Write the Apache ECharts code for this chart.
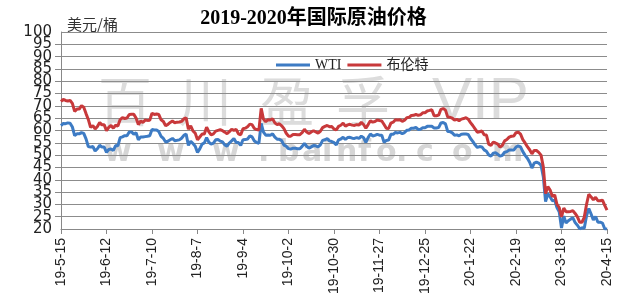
<!DOCTYPE html>
<html><head><meta charset="utf-8">
<script src="https://cdn.jsdelivr.net/npm/echarts@6/dist/echarts.min.js"></script>
<style>html,body{margin:0;padding:0;background:#fff}#c{width:627px;height:308px}</style>
</head><body><div id="c"></div>
<script>
var titleText = '2019-2020年国际原油价格';
var unitText = '美元/桶';
var seriesNames = ['WTI', '布伦特'];
var yTicks = {min: 20, max: 100, step: 5};

var dates = [
'19-5-15','19-5-16','19-5-17','19-5-20','19-5-21','19-5-22','19-5-23','19-5-24','19-5-27','19-5-28','19-5-29','19-5-30','19-5-31',
'19-6-3','19-6-4','19-6-5','19-6-6','19-6-7','19-6-10','19-6-11','19-6-12','19-6-13','19-6-14','19-6-17','19-6-18','19-6-19','19-6-20','19-6-21','19-6-24','19-6-25','19-6-26','19-6-27','19-6-28',
'19-7-1','19-7-2','19-7-3','19-7-4','19-7-5','19-7-8','19-7-9','19-7-10','19-7-11','19-7-12','19-7-15','19-7-16','19-7-17','19-7-18','19-7-19','19-7-22','19-7-23','19-7-24','19-7-25','19-7-26','19-7-29','19-7-30','19-7-31',
'19-8-1','19-8-2','19-8-5','19-8-6','19-8-7','19-8-8','19-8-9','19-8-12','19-8-13','19-8-14','19-8-15','19-8-16','19-8-19','19-8-20','19-8-21','19-8-22','19-8-23','19-8-26','19-8-27','19-8-28','19-8-29','19-8-30',
'19-9-2','19-9-3','19-9-4','19-9-5','19-9-6','19-9-9','19-9-10','19-9-11','19-9-12','19-9-13','19-9-16','19-9-17','19-9-18','19-9-19','19-9-20','19-9-23','19-9-24','19-9-25','19-9-26','19-9-27','19-9-30',
'19-10-1','19-10-2','19-10-3','19-10-4','19-10-7','19-10-8','19-10-9','19-10-10','19-10-11','19-10-14','19-10-15','19-10-16','19-10-17','19-10-18','19-10-21','19-10-22','19-10-23','19-10-24','19-10-25','19-10-28','19-10-29','19-10-30','19-10-31',
'19-11-1','19-11-4','19-11-5','19-11-6','19-11-7','19-11-8','19-11-11','19-11-12','19-11-13','19-11-14','19-11-15','19-11-18','19-11-19','19-11-20','19-11-21','19-11-22','19-11-25','19-11-26','19-11-27','19-11-28','19-11-29',
'19-12-2','19-12-3','19-12-4','19-12-5','19-12-6','19-12-9','19-12-10','19-12-11','19-12-12','19-12-13','19-12-16','19-12-17','19-12-18','19-12-19','19-12-20','19-12-23','19-12-24','19-12-25','19-12-26','19-12-27','19-12-30','19-12-31',
'20-1-1','20-1-2','20-1-3','20-1-6','20-1-7','20-1-8','20-1-9','20-1-10','20-1-13','20-1-14','20-1-15','20-1-16','20-1-17','20-1-20','20-1-21','20-1-22','20-1-23','20-1-24','20-1-27','20-1-28','20-1-29','20-1-30','20-1-31',
'20-2-3','20-2-4','20-2-5','20-2-6','20-2-7','20-2-10','20-2-11','20-2-12','20-2-13','20-2-14','20-2-17','20-2-18','20-2-19','20-2-20','20-2-21','20-2-24','20-2-25','20-2-26','20-2-27','20-2-28',
'20-3-2','20-3-3','20-3-4','20-3-5','20-3-6','20-3-9','20-3-10','20-3-11','20-3-12','20-3-13','20-3-16','20-3-17','20-3-18','20-3-19','20-3-20','20-3-23','20-3-24','20-3-25','20-3-26','20-3-27','20-3-30','20-3-31',
'20-4-1','20-4-2','20-4-3','20-4-6','20-4-7','20-4-8','20-4-9','20-4-10','20-4-13','20-4-14','20-4-15'
];

var wti = [
62.02,62.87,62.76,63.10,62.99,61.42,57.91,58.63,58.63,59.14,58.81,56.59,53.50,
53.25,53.48,51.68,52.59,53.99,53.26,53.27,51.14,52.28,52.51,51.93,53.90,53.76,57.07,57.43,57.90,57.83,59.38,59.43,58.47,
59.09,56.25,57.34,57.34,57.51,57.66,57.83,60.43,60.20,60.21,59.58,57.62,56.78,55.30,55.63,56.22,56.77,55.88,56.02,56.20,56.87,58.05,58.58,
53.95,55.66,54.69,53.63,51.09,52.54,54.50,54.93,57.10,55.23,54.47,54.87,56.21,56.34,55.68,55.35,54.17,53.64,54.93,55.78,56.71,55.10,
55.10,53.94,56.26,56.30,56.52,57.85,57.40,55.75,55.09,54.85,62.90,59.34,58.11,58.13,58.09,58.64,57.29,56.49,56.41,55.91,54.07,
53.62,52.64,52.45,52.81,52.75,52.63,52.59,53.55,54.70,53.59,52.81,53.36,53.93,53.78,53.31,54.16,55.97,56.23,56.66,55.81,55.54,55.06,54.18,
56.20,56.54,57.23,56.35,57.15,57.24,56.86,56.80,57.12,56.77,57.72,57.05,55.21,57.11,58.58,57.77,58.01,58.41,58.11,58.11,55.17,
55.96,56.10,58.43,58.43,59.20,59.02,59.24,58.76,59.18,60.07,60.21,60.94,60.93,61.22,60.44,60.52,61.11,61.11,61.68,61.72,61.68,61.06,
61.06,61.18,63.05,63.27,62.70,59.61,59.56,59.04,58.08,58.23,57.81,58.52,58.54,58.54,58.38,56.74,55.59,54.19,53.14,53.48,53.33,52.14,51.56,
50.11,49.61,50.75,50.95,50.32,49.57,49.94,51.17,51.42,52.05,52.05,52.05,53.29,53.78,53.38,51.43,49.90,48.73,47.09,44.76,
46.75,47.18,46.78,45.90,41.28,31.13,34.36,32.98,31.50,31.73,28.70,26.95,20.37,25.22,22.43,23.36,24.01,24.49,22.60,21.51,20.09,20.48,
20.31,25.32,28.34,26.08,23.63,25.09,22.76,22.76,22.41,20.11,19.87
];

var brent = [
71.77,72.62,72.21,71.97,72.18,70.99,67.76,68.69,68.69,70.11,69.45,66.87,64.49,
61.28,61.97,60.63,61.67,63.29,62.29,62.29,59.97,61.31,62.01,60.94,62.14,61.82,64.45,65.20,64.86,65.05,66.49,66.55,66.55,
65.06,62.40,63.82,63.30,64.23,64.11,64.16,67.01,66.52,66.72,66.48,64.35,63.66,61.93,62.47,63.26,63.83,63.18,63.39,63.46,63.71,64.72,65.17,
60.50,61.89,59.81,58.94,56.23,57.38,58.53,58.57,61.30,59.48,58.23,58.64,59.74,60.03,60.30,59.92,59.34,58.70,59.51,60.49,60.08,60.43,
58.66,58.26,60.70,60.95,61.54,62.59,62.38,60.81,60.38,60.22,69.02,64.55,63.60,64.40,64.28,64.77,63.10,62.39,62.74,61.91,60.78,
58.89,57.69,57.71,58.37,58.35,58.24,58.32,59.10,60.51,59.35,58.74,59.42,59.91,59.42,58.96,59.70,61.17,61.67,62.02,61.57,61.59,60.61,60.23,
61.69,62.13,62.96,61.74,62.29,62.51,62.18,62.06,62.37,62.28,63.30,62.44,60.91,62.40,63.97,63.39,63.65,64.27,64.06,63.87,62.43,
60.92,60.82,63.00,63.39,64.39,64.25,64.34,63.72,64.20,65.22,65.34,66.10,66.17,66.54,66.14,66.39,67.20,67.20,67.92,68.16,68.44,66.00,
66.00,66.25,68.60,68.91,68.27,65.44,65.37,64.98,64.20,64.49,64.00,64.62,64.85,65.20,64.59,63.21,62.04,60.69,59.32,59.51,59.81,58.29,58.16,
54.45,53.96,55.28,54.93,54.47,53.27,54.01,55.79,56.34,57.32,57.67,57.75,59.12,59.31,58.50,56.30,54.95,53.43,52.18,50.52,
51.90,51.86,51.13,49.99,45.27,34.36,37.22,35.79,33.22,33.85,30.05,28.73,24.88,28.47,26.98,27.03,27.15,27.39,26.34,24.93,22.76,22.74,
24.74,29.94,34.11,33.05,31.87,32.84,31.48,31.48,31.74,29.60,27.69
];

var wmChars = ['百','川','盈','孚'];
var wmLatin = 'VIP';
var wmUrl = ['w','w','w','.','b','a','i','n','f','o','.','c','o','m'];

var chart = echarts.init(document.getElementById('c'), null, {renderer: 'canvas'});

var wmEls = [];
var cx = [128, 208, 290, 366];
wmChars.forEach(function (ch, i) {
  wmEls.push({type: 'text', z: -10, left: cx[i] - 30, top: 74,
    style: {text: ch, fill: '#dcdcdc', font: '54px "Noto Sans CJK SC"'}});
});
wmEls.push({type: 'text', z: -10, left: 432, top: 72,
  style: {text: wmLatin, fill: '#dcdcdc', font: '60px "Liberation Sans"'}});
var ux = [104, 157, 212, 258, 278, 302, 322, 336, 358, 376, 396, 416, 452, 492];
wmUrl.forEach(function (ch, i) {
  wmEls.push({type: 'text', z: -10, left: ux[i], top: 138,
    style: {text: ch, fill: '#d6d6d6', font: 'bold 30px "DejaVu Sans"'}});
});
wmEls.push({type: 'text', left: 67, top: 17,
  style: {text: unitText, fill: '#333', font: '15px "Noto Sans CJK SC"'}});

var yLabelStyle = {margin: 9, fontSize: 15, color: '#222', fontFamily: '"DejaVu Sans"'};

chart.setOption({
  animation: false,
  backgroundColor: '#fff',
  title: {
    text: titleText, left: 'center', top: 4,
    textStyle: {fontFamily: '"Liberation Serif", "Noto Sans CJK SC"', fontWeight: 'bold', fontSize: 20, color: '#000'}
  },
  legend: {
    data: seriesNames, left: 271, top: 53, icon: 'rect', itemWidth: 34, itemHeight: 3, itemGap: 6,
    textStyle: {fontFamily: '"Liberation Serif", "Noto Sans CJK SC"', fontSize: 14, color: '#222'}
  },
  graphic: {elements: wmEls},
  grid: {left: 61, right: 20, top: 32, bottom: 79, containLabel: false},
  xAxis: {
    type: 'category', data: dates, boundaryGap: false,
    axisLine: {lineStyle: {color: '#888', width: 1}},
    axisTick: {interval: 19, length: 5, lineStyle: {color: '#888'}},
    axisLabel: {interval: 19, rotate: 90, margin: 9, fontSize: 14, color: '#222', fontFamily: '"Liberation Sans"',
      showMinLabel: true, showMaxLabel: true},
    splitLine: {show: false}
  },
  yAxis: [{
    type: 'value', min: yTicks.min, max: yTicks.max, interval: yTicks.step,
    axisLine: {show: true, lineStyle: {color: '#888', width: 1}},
    axisTick: {show: true, length: 6, lineStyle: {color: '#888'}},
    axisLabel: Object.assign({showMinLabel: false, showMaxLabel: false}, yLabelStyle),
    splitLine: {show: true, lineStyle: {color: '#8c8c8c', width: 1}}
  }, {
    type: 'value', position: 'left', offset: 0,
    min: yTicks.min, max: yTicks.max, interval: yTicks.max - yTicks.min,
    axisLine: {show: false}, axisTick: {show: false}, splitLine: {show: false},
    axisLabel: Object.assign({showMinLabel: true, showMaxLabel: true}, yLabelStyle)
  }],
  series: [
    {name: seriesNames[0], type: 'line', data: wti, yAxisIndex: 0, showSymbol: false, symbol: 'none', clip: true,
      lineStyle: {color: '#3d7bc4', width: 3}, itemStyle: {color: '#3d7bc4'}, z: 3},
    {name: seriesNames[1], type: 'line', data: brent, yAxisIndex: 0, showSymbol: false, symbol: 'none', clip: true,
      lineStyle: {color: '#c8393b', width: 3}, itemStyle: {color: '#c8393b'}, z: 4}
  ]
});
</script></body></html>
